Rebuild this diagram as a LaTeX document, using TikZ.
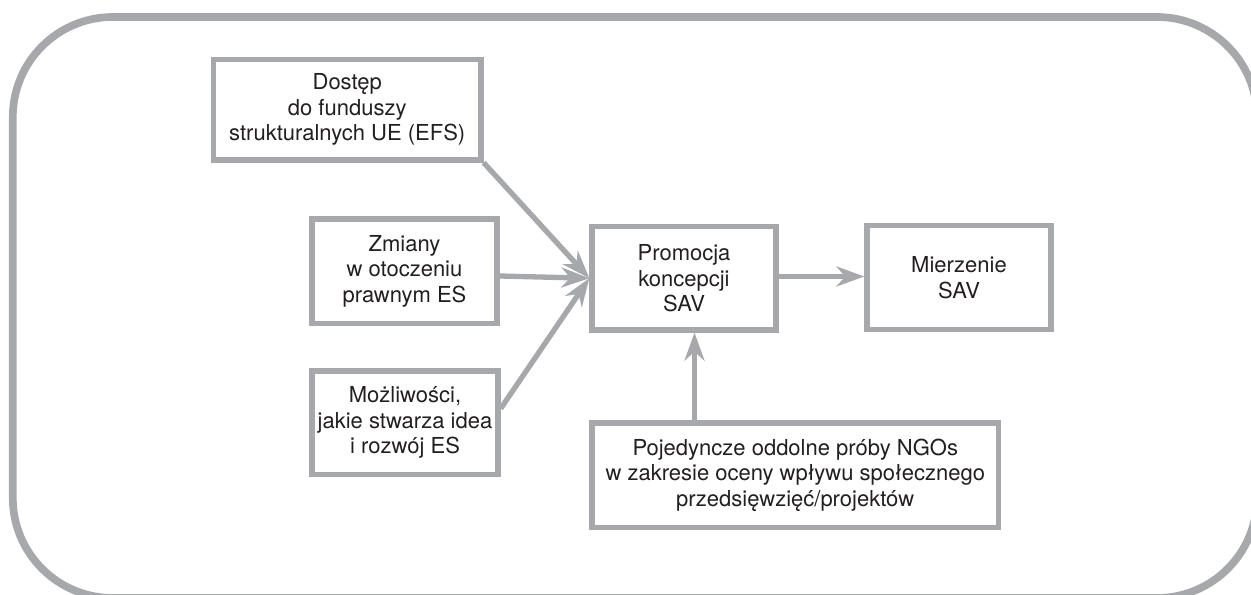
\documentclass[tikz,border=0pt]{standalone}
\usepackage{fontspec}
\setmainfont{TeX Gyre Heros}
\usetikzlibrary{arrows.meta,calc}
\definecolor{framegray}{RGB}{167,168,172}
\definecolor{textdark}{RGB}{35,31,32}
\begin{document}
\begin{tikzpicture}[x=1bp,y=-1bp,
  box/.style={draw=framegray, line width=5.3bp, fill=white, text=textdark,
    align=center, inner sep=0pt, font=\fontsize{22bp}{25.5bp}\selectfont},
  flow/.style={draw=framegray, line width=5.3bp,
    -{Stealth[length=28bp,width=20bp,inset=9bp]}}]
\useasboundingbox (0,0) rectangle (1251,595);
% outer rounded frame, running past the page on the right and bottom
\begin{scope}
  \clip (0,0) rectangle (1251,595);
  \draw[framegray, line width=7.7bp, rounded corners=100bp] (12.8,17) rectangle (1257,598);
\end{scope}

% boxes
\node[box, minimum width=267.5bp, minimum height=100.5bp] (a) at (347.25,109.75)
  {Dostęp\\do funduszy\\strukturalnych UE (EFS)};
\node[box, minimum width=185bp, minimum height=104.5bp] (b) at (404.5,271.25)
  {Zmiany\\w otoczeniu\\prawnym ES};
\node[box, minimum width=186bp, minimum height=103.5bp] (c) at (405,422.75)
  {Możliwości,\\jakie stwarza idea\\i rozwój ES};
\node[box, minimum width=184bp, minimum height=103.5bp] (p) at (684,278.25)
  {Promocja\\koncepcji\\SAV};
\node[box, minimum width=184bp, minimum height=104bp] (m) at (959,277.5)
  {Mierzenie\\SAV};
\node[box, minimum width=406.5bp, minimum height=104.5bp] (e) at (795.25,475.25)
  {Pojedyncze oddolne próby NGOs\\w zakresie oceny wpływu społecznego\\przedsięwzięć/projektów};

% connectors
\coordinate (vx) at (694.5,0);
\draw[flow] (a.south east) -- (p.west);
\draw[flow] (b.east |- 0,276) -- (p.west);
\draw[flow] ($(c.north east)!0.37!(c.south east)$) -- (p.west);
\draw[flow] (p.east |- 0,276.5) -- (m.west |- 0,276.5);
\draw[flow] (vx |- e.north) -- (vx |- p.south);
\end{tikzpicture}
\end{document}
